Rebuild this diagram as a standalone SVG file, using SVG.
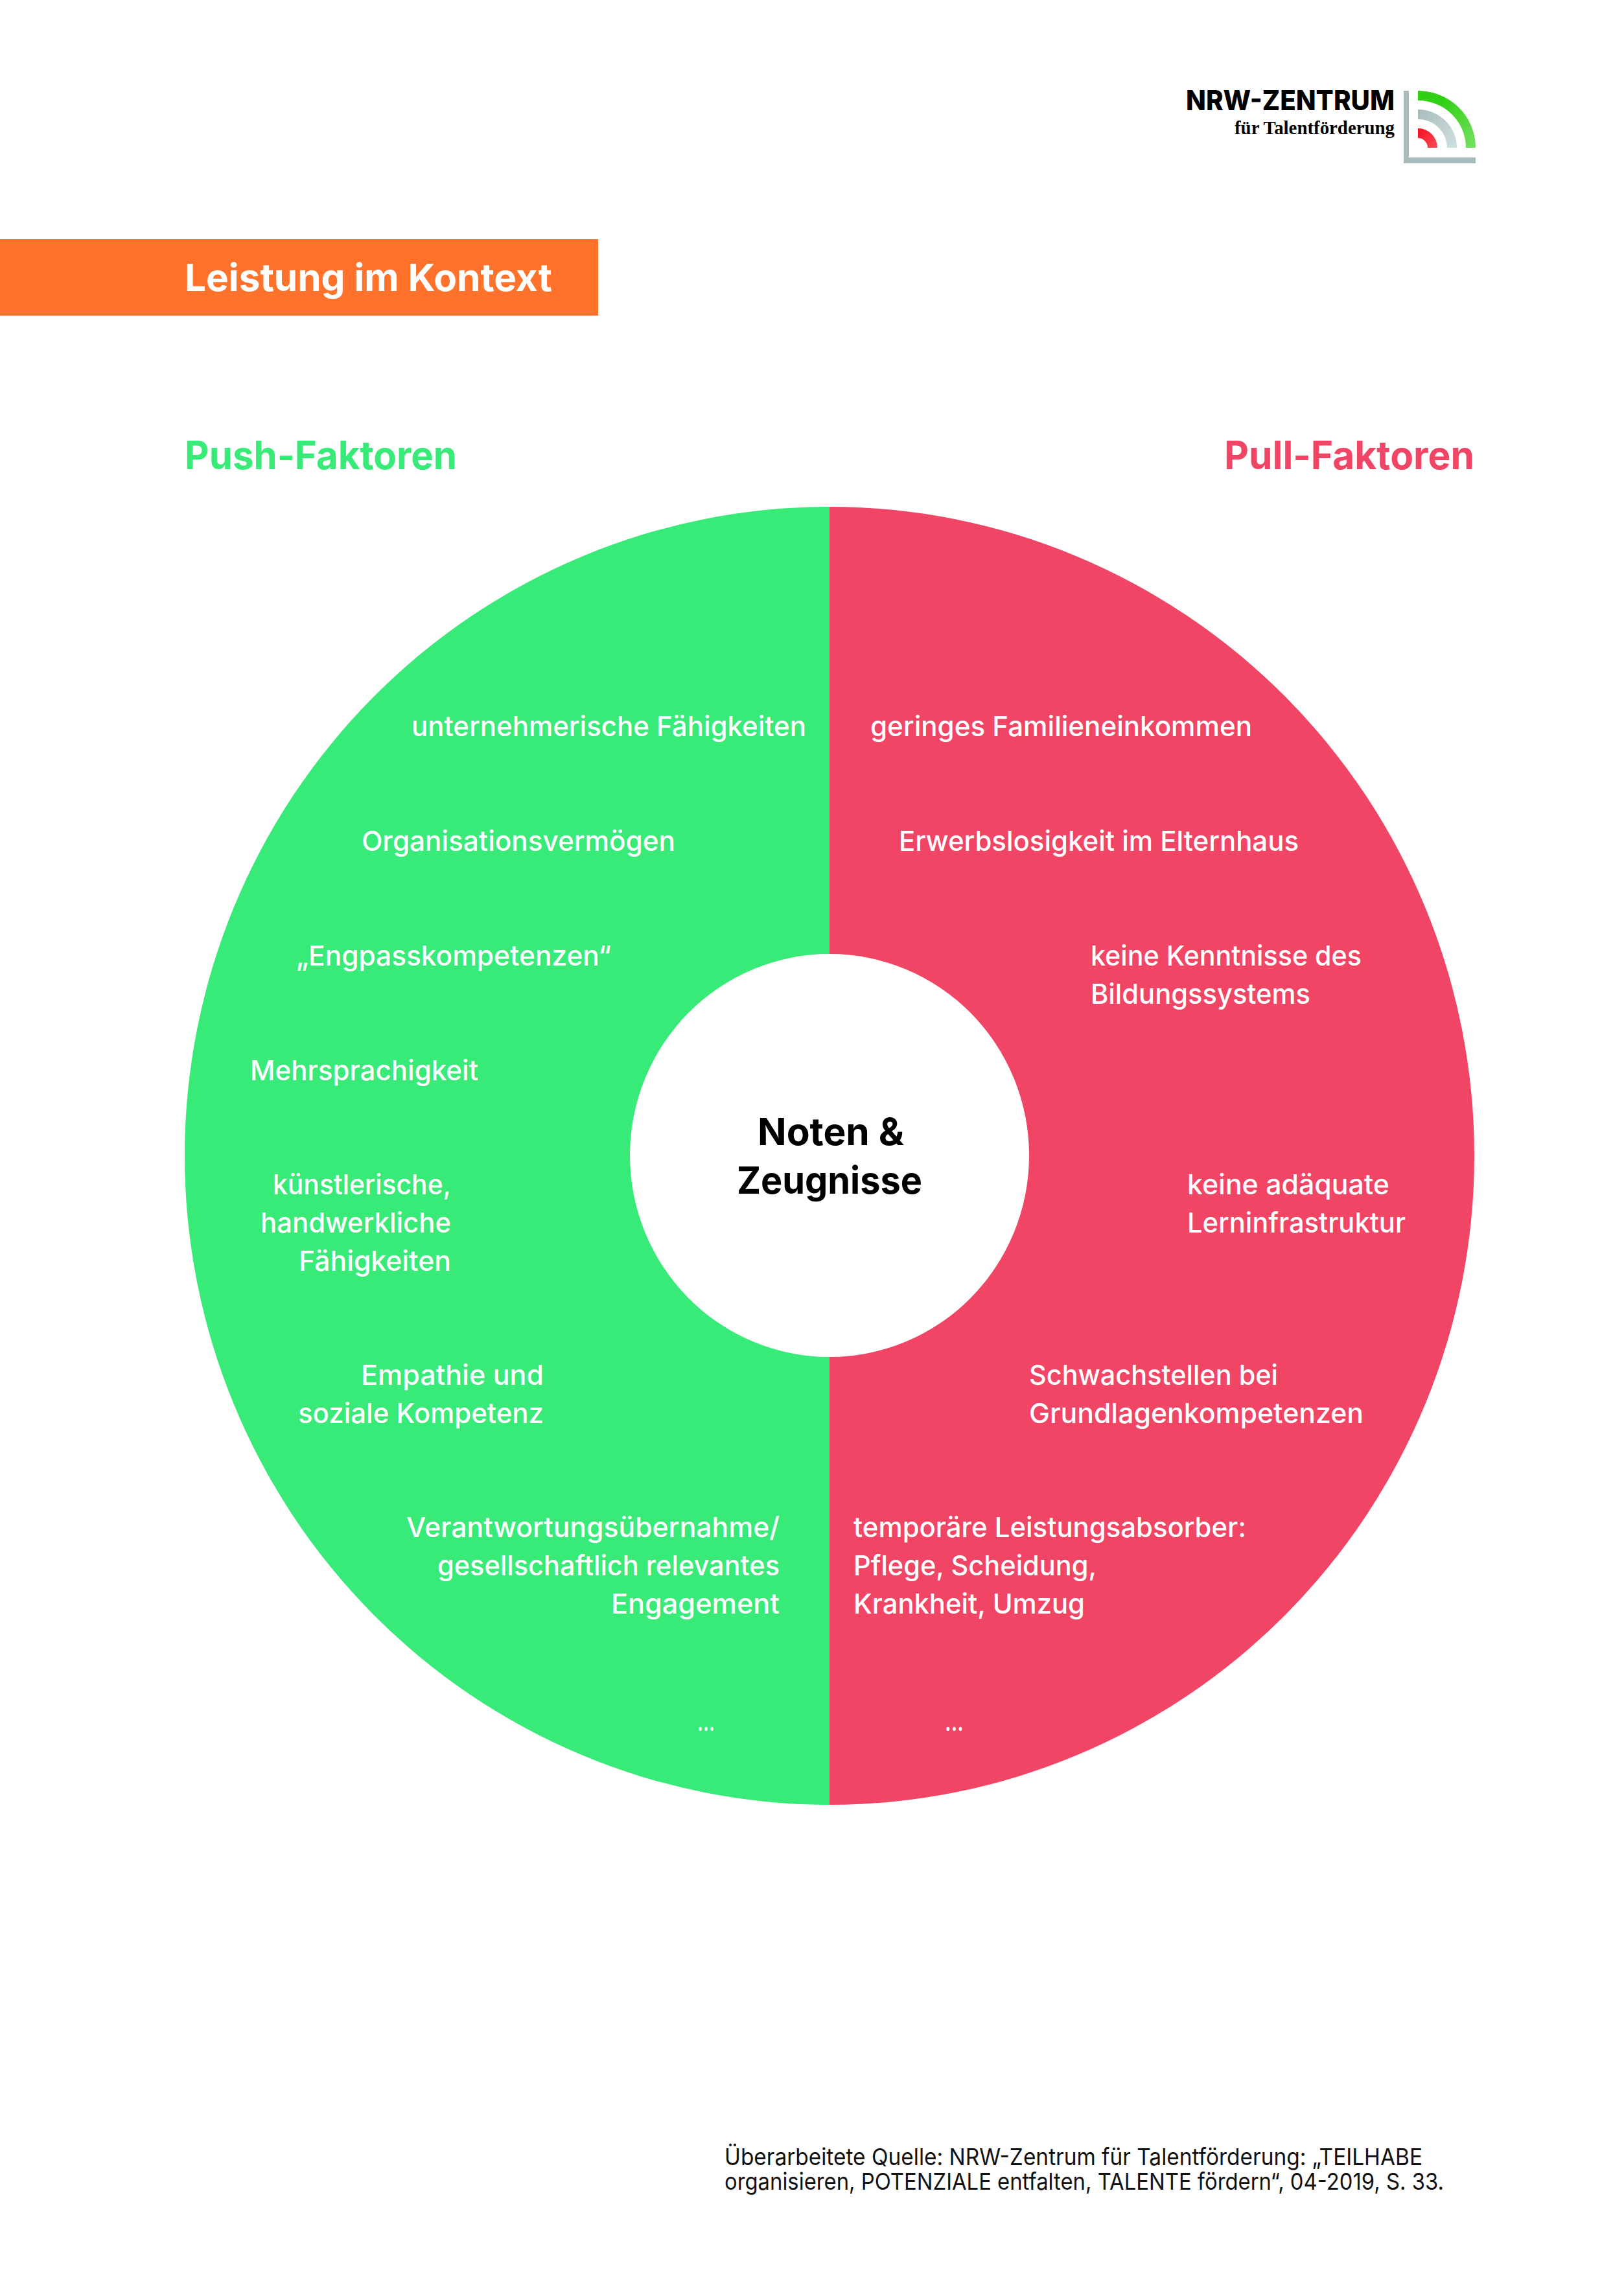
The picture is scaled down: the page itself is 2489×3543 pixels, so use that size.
<svg xmlns="http://www.w3.org/2000/svg" width="2489" height="3543" viewBox="0 0 2489 3543">
<style>
text{font-family:"Inter","Open Sans","Liberation Sans",sans-serif}
.t{font-size:43px;fill:#fff;font-weight:500}
.e{text-anchor:end}
.h{font-size:60px;font-weight:700}
.c{font-size:58px;font-weight:700;fill:#000;text-anchor:middle}
.f{font-size:36px;fill:#111}
</style>
<defs>
<linearGradient id="gGreen" gradientUnits="userSpaceOnUse" x1="2188" y1="140" x2="2270" y2="228"><stop offset="0.3" stop-color="#2fd014"/><stop offset="1" stop-color="#73df5e"/></linearGradient>
<linearGradient id="gGrey" gradientUnits="userSpaceOnUse" x1="2188" y1="169" x2="2245" y2="228"><stop offset="0" stop-color="#a8bcbd"/><stop offset="1" stop-color="#cfdfdf"/></linearGradient>
<linearGradient id="gRed" gradientUnits="userSpaceOnUse" x1="2188" y1="198" x2="2218" y2="228"><stop offset="0" stop-color="#f3101f"/><stop offset="1" stop-color="#fb4a55"/></linearGradient>
</defs>
<rect width="2489" height="3543" fill="#fff"/>
<g id="logo">
<text x="2152" y="170" font-size="42" font-weight="800" text-anchor="end" textLength="322" lengthAdjust="spacingAndGlyphs" fill="#000">NRW-ZENTRUM</text>
<text x="2152" y="207" font-size="30" font-weight="700" text-anchor="end" textLength="247" lengthAdjust="spacingAndGlyphs" style="font-family:'Liberation Serif',serif" fill="#000">für Talentförderung</text>
<path d="M2166 140h8v103h103v9h-111z" fill="#a9bcbc"/>
<path d="M2188 140A89 88 0 0 1 2277 228h-15A74 73 0 0 0 2188 155z" fill="url(#gGreen)"/>
<path d="M2188 169A60 59 0 0 1 2248 228h-15A45 44 0 0 0 2188 184z" fill="url(#gGrey)"/>
<path d="M2188 198A30 30 0 0 1 2218 228h-15A15 15 0 0 0 2188 213z" fill="url(#gRed)"/>
</g>
<g id="banner"><rect x="0" y="369" width="923" height="118" fill="#ff722c"/>
<text x="285" y="449" font-size="58" font-weight="700" fill="#fff" textLength="567" lengthAdjust="spacingAndGlyphs">Leistung im Kontext</text></g>
<text id="push-title" class="h" x="285" y="724" fill="#38ea78" textLength="420" lengthAdjust="spacingAndGlyphs">Push-Faktoren</text>
<text id="pull-title" class="h e" x="2275" y="724" fill="#f04565" textLength="386" lengthAdjust="spacingAndGlyphs">Pull-Faktoren</text>
<g id="ring">
<path d="M1280 782A995 1001.5 0 0 0 1280 2785z" fill="#38ea78"/>
<path d="M1280 782A995 1001.5 0 0 1 1280 2785z" fill="#f04565"/>
<ellipse cx="1280" cy="1783" rx="308" ry="311" fill="#fff"/>
</g>
<g id="center"><text class="c" x="1282" y="1767" textLength="226" lengthAdjust="spacingAndGlyphs">Noten &amp;</text><text class="c" x="1280" y="1842" textLength="286" lengthAdjust="spacingAndGlyphs">Zeugnisse</text></g>
<g id="push">
<text class="t e" x="1244" y="1136" textLength="609" lengthAdjust="spacingAndGlyphs">unternehmerische Fähigkeiten</text>
<text class="t e" x="1042" y="1313" textLength="484" lengthAdjust="spacingAndGlyphs">Organisationsvermögen</text>
<text class="t e" x="943" y="1490" textLength="486" lengthAdjust="spacingAndGlyphs">„Engpasskompetenzen“</text>
<text class="t e" x="738" y="1667" textLength="352" lengthAdjust="spacingAndGlyphs">Mehrsprachigkeit</text>
<text class="t e" x="696" y="1843" textLength="275" lengthAdjust="spacingAndGlyphs">künstlerische,</text>
<text class="t e" x="696" y="1902" textLength="294" lengthAdjust="spacingAndGlyphs">handwerkliche</text>
<text class="t e" x="696" y="1961" textLength="235" lengthAdjust="spacingAndGlyphs">Fähigkeiten</text>
<text class="t e" x="839" y="2137" textLength="282" lengthAdjust="spacingAndGlyphs">Empathie und</text>
<text class="t e" x="839" y="2196" textLength="379" lengthAdjust="spacingAndGlyphs">soziale Kompetenz</text>
<text class="t e" x="1203" y="2372" textLength="576" lengthAdjust="spacingAndGlyphs">Verantwortungsübernahme/</text>
<text class="t e" x="1203" y="2431" textLength="528" lengthAdjust="spacingAndGlyphs">gesellschaftlich relevantes</text>
<text class="t e" x="1203" y="2490" textLength="260" lengthAdjust="spacingAndGlyphs">Engagement</text>
<text class="t e" x="1103" y="2671" textLength="27" lengthAdjust="spacingAndGlyphs">...</text>
</g>
<g id="pull">
<text class="t" x="1343" y="1136" textLength="589" lengthAdjust="spacingAndGlyphs">geringes Familieneinkommen</text>
<text class="t" x="1387" y="1313" textLength="617" lengthAdjust="spacingAndGlyphs">Erwerbslosigkeit im Elternhaus</text>
<text class="t" x="1683" y="1490" textLength="418" lengthAdjust="spacingAndGlyphs">keine Kenntnisse des</text>
<text class="t" x="1683" y="1549" textLength="339" lengthAdjust="spacingAndGlyphs">Bildungssystems</text>
<text class="t" x="1832" y="1843" textLength="312" lengthAdjust="spacingAndGlyphs">keine adäquate</text>
<text class="t" x="1832" y="1902" textLength="337" lengthAdjust="spacingAndGlyphs">Lerninfrastruktur</text>
<text class="t" x="1588" y="2137" textLength="384" lengthAdjust="spacingAndGlyphs">Schwachstellen bei</text>
<text class="t" x="1588" y="2196" textLength="516" lengthAdjust="spacingAndGlyphs">Grundlagenkompetenzen</text>
<text class="t" x="1317" y="2372" textLength="606" lengthAdjust="spacingAndGlyphs">temporäre Leistungsabsorber:</text>
<text class="t" x="1317" y="2431" textLength="375" lengthAdjust="spacingAndGlyphs">Pflege, Scheidung,</text>
<text class="t" x="1317" y="2490" textLength="357" lengthAdjust="spacingAndGlyphs">Krankheit, Umzug</text>
<text class="t" x="1458" y="2671" textLength="29" lengthAdjust="spacingAndGlyphs">...</text>
</g>
<g id="source">
<text class="f" x="1118" y="3341" textLength="1077" lengthAdjust="spacingAndGlyphs">Überarbeitete Quelle: NRW-Zentrum für Talentförderung: „TEILHABE</text>
<text class="f" x="1118" y="3379" textLength="1110" lengthAdjust="spacingAndGlyphs">organisieren, POTENZIALE entfalten, TALENTE fördern“, 04-2019, S. 33.</text>
</g>
</svg>
